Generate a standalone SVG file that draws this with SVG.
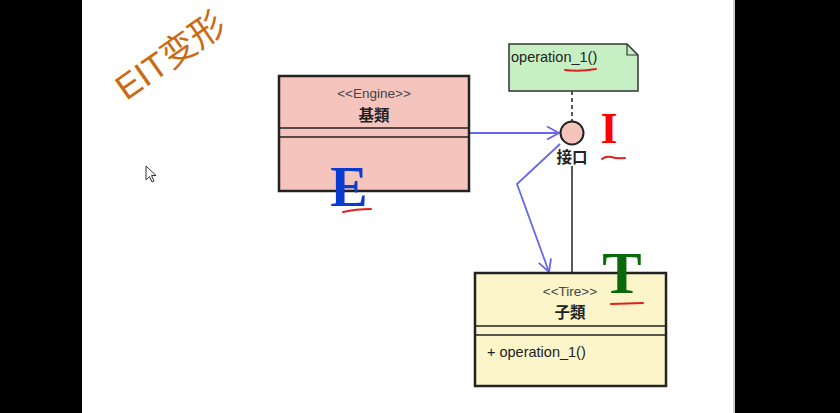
<svg xmlns="http://www.w3.org/2000/svg" width="840" height="413" viewBox="0 0 840 413">
<style>
.box{stroke:#222;stroke-width:2.5}
.div{stroke:#222;stroke-width:1.5}
.st{font-family:"Liberation Sans",Arial,sans-serif;font-size:13.5px;fill:#444;text-anchor:middle}
.nm{font-family:"Noto Sans CJK TC","Noto Sans CJK SC",sans-serif;font-size:15.5px;font-weight:bold;fill:#222;text-anchor:middle}
.op{font-family:"Liberation Sans",Arial,sans-serif;font-size:14.5px;fill:#222}
.conn{stroke:#6666ee;stroke-width:1.8;fill:none}
.mark{font-family:"Liberation Serif","Times New Roman",serif;font-weight:bold}
.ul{stroke:#e02020;stroke-width:2;fill:none;stroke-linecap:round}
</style>
<defs>
<marker id="open" markerWidth="16" markerHeight="16" refX="13" refY="8" orient="auto" markerUnits="userSpaceOnUse">
<path d="M1,1.5 L13,8 L1,14.5" fill="none" stroke="#6666ee" stroke-width="1.8"/>
</marker>
</defs>
<rect x="0" y="0" width="840" height="413" fill="#000"/>
<rect x="82" y="0" width="653" height="413" fill="#fff"/>
<line x1="734" y1="0" x2="734" y2="413" stroke="#999" stroke-width="1"/>

<text transform="translate(172 58) rotate(-35)" font-family="'Liberation Sans','Noto Sans CJK SC',sans-serif" font-size="35" fill="#cc6a12" text-anchor="middle" dominant-baseline="middle">EIT变形</text>

<path d="M146,166 L146,180 L149.5,176.5 L152,182 L154,181 L151.5,175.5 L156,175.5 Z" fill="#fff" stroke="#333" stroke-width="1"/>

<g id="connectors">
<line x1="572" y1="91" x2="572" y2="121" stroke="#222" stroke-width="1.5" stroke-dasharray="4,3"/>
<line x1="572" y1="166" x2="572" y2="273" stroke="#222" stroke-width="1.5"/>
<path class="conn" d="M469,133 L559,133" marker-end="url(#open)"/>
<path class="conn" d="M560,144 L517,184 L549,272" marker-end="url(#open)"/>
</g>

<g id="engine">
<rect class="box" x="279" y="76" width="190" height="115" fill="#f5c4bc"/>
<line class="div" x1="279" y1="128" x2="469" y2="128"/>
<line class="div" x1="279" y1="137" x2="469" y2="137"/>
<text class="st" x="374" y="98">&lt;&lt;Engine&gt;&gt;</text>
<text class="nm" x="374" y="121">基類</text>
</g>

<g id="note">
<path d="M509,44 L627,44 L638,55 L638,91 L509,91 Z" fill="#c6efc4" stroke="#333" stroke-width="1.5"/>
<path d="M627,44 L627,55 L638,55" fill="none" stroke="#333" stroke-width="1.2"/>
<text class="op" x="511" y="62">operation_1()</text>
</g>

<g id="interface">
<circle cx="572" cy="133" r="11.5" fill="#f5c4bc" stroke="#222" stroke-width="2"/>
<text class="nm" x="572" y="163">接口</text>
</g>

<g id="tire">
<rect class="box" x="475" y="273" width="191" height="113" fill="#fbf5c9"/>
<line class="div" x1="475" y1="326" x2="666" y2="326"/>
<line class="div" x1="475" y1="335" x2="666" y2="335"/>
<text class="st" x="570" y="296">&lt;&lt;Tire&gt;&gt;</text>
<text class="nm" x="570" y="318">子類</text>
<text class="op" x="487" y="357">+ operation_1()</text>
</g>

<text class="mark" x="349" y="206" font-size="56" fill="#0a3cd0" text-anchor="middle">E</text>
<text class="mark" x="609" y="143" font-size="44" fill="#ff0000" text-anchor="middle">I</text>
<text class="mark" x="622" y="293" font-size="59" fill="#0a6a0a" text-anchor="middle">T</text>

<path class="ul" d="M565,70 Q580,72 596,69"/>
<path class="ul" d="M343,212 Q356,209 371,209"/>
<path class="ul" d="M602,159 Q606,156 611,157 Q618,159 625,158"/>
<path class="ul" d="M611,304 L643,303"/>
</svg>
